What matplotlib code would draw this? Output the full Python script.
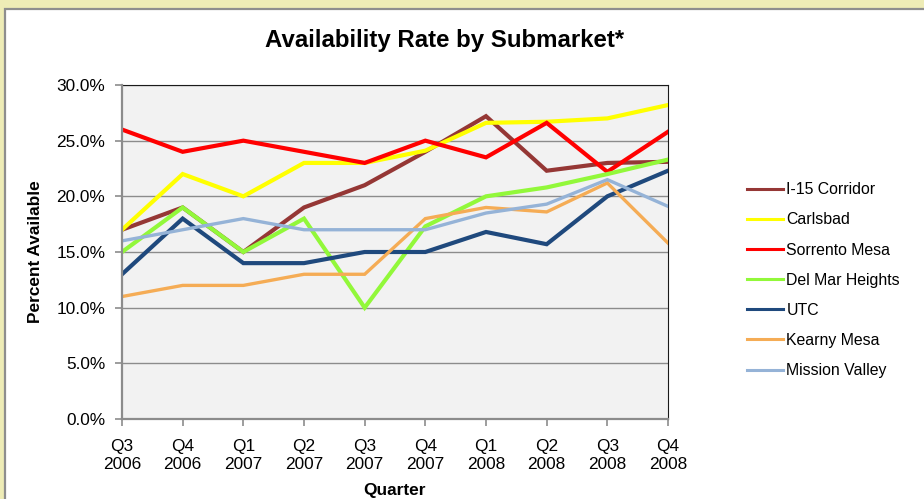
import matplotlib
matplotlib.use("Agg")
import matplotlib.pyplot as plt
from matplotlib.patches import Rectangle
from matplotlib.ticker import FuncFormatter

plt.rcParams["font.family"] = ["Liberation Sans", "DejaVu Sans"]

quarters = ["Q3\n2006", "Q4\n2006", "Q1\n2007", "Q2\n2007", "Q3\n2007",
            "Q4\n2007", "Q1\n2008", "Q2\n2008", "Q3\n2008", "Q4\n2008"]

i15 = [17, 19, 15, 19, 21, 24, 27.2, 22.3, 23.0, 23.1]
carlsbad = [17, 22, 20, 23, 23, 24.1, 26.6, 26.7, 27.0, 28.2]
sorrento = [26, 24, 25, 24, 23, 25.0, 23.5, 26.6, 22.2, 25.8]
del_mar = [15, 19, 15, 18, 10, 17.3, 20.0, 20.8, 22.0, 23.3]
utc = [13, 18, 14, 14, 15, 15.0, 16.8, 15.7, 20.0, 22.3]
kearny = [11, 12, 12, 13, 13, 18.0, 19.0, 18.6, 21.2, 15.8]
mission = [16, 17, 18, 17, 17, 17.0, 18.5, 19.3, 21.5, 19.1]

series = [
    ("I-15 Corridor", i15, "#953735", 3.0),
    ("Carlsbad", carlsbad, "#FFFF00", 3.0),
    ("Sorrento Mesa", sorrento, "#FF0000", 3.0),
    ("Del Mar Heights", del_mar, "#92F83A", 3.0),
    ("UTC", utc, "#1F497D", 3.0),
    ("Kearny Mesa", kearny, "#F5AC55", 2.4),
    ("Mission Valley", mission, "#95B3D7", 2.4),
]

W, H = 924, 499
fig = plt.figure(figsize=(W / 100, H / 100), dpi=100)
fig.patch.set_facecolor("#EEECB6")
# white chart panel with grey border, drawn beneath the axes
panel = Rectangle((5 / W, -0.01), 1.0, 1 - 9 / H + 0.01, transform=fig.transFigure,
                  facecolor="white", edgecolor="#8E8E8E", linewidth=1.6, zorder=-10)
fig.patches.append(panel)

ax = fig.add_axes([122 / W, 1 - 419 / H, (668 - 122) / W, (419 - 85) / H])
ax.set_zorder(5)
ax.set_facecolor("#F2F2F2")

x = list(range(len(quarters)))
for name, vals, color, lw in series:
    ax.plot(x, vals, color=color, lw=lw, label=name, solid_joinstyle="miter", zorder=3)

ax.set_xlim(0, len(quarters) - 1)
ax.set_ylim(0, 30)
ax.set_yticks([0, 5, 10, 15, 20, 25, 30])
ax.yaxis.set_major_formatter(FuncFormatter(lambda v, p: f"{v:.1f}%"))
ax.set_xticks(x)
ax.set_xticklabels(quarters)
ax.grid(axis="y", color="#8C8C8C", lw=1.0, zorder=1)
ax.set_axisbelow(True)

for side in ["top", "right"]:
    ax.spines[side].set_color("#1A1A1A")
    ax.spines[side].set_linewidth(0.8)
for side in ["left", "bottom"]:
    ax.spines[side].set_color("#8C8C8C")
    ax.spines[side].set_linewidth(1.6)
    ax.spines[side].set_zorder(4)

ax.tick_params(axis="both", colors="#8C8C8C", labelcolor="black", labelsize=12.4, length=5, width=1.2)
ax.tick_params(axis="x", pad=9.5)
ax.tick_params(axis="y", pad=7)

fig.text(445 / W, 1 - 41 / H, "Availability Rate by Submarket*", fontsize=17.3, fontweight="bold",
         ha="center", va="center")
fig.text(35.5 / W, 1 - 252 / H, "Percent Available", fontsize=12.4, fontweight="bold",
         rotation=90, ha="center", va="center")
fig.text(395 / W, 1 - 490 / H, "Quarter", fontsize=12.4, fontweight="bold", ha="center", va="center")

leg = ax.legend(loc="upper left", bbox_to_anchor=(740.7 / W, 1 - 176 / H), bbox_transform=fig.transFigure,
                frameon=False, fontsize=11.4, handlelength=2.28, handletextpad=0.2,
                labelspacing=0.955, borderaxespad=0)
for line in leg.get_lines():
    line.set_linewidth(2.2)

fig.savefig("out.png", dpi=100, facecolor=fig.get_facecolor())
